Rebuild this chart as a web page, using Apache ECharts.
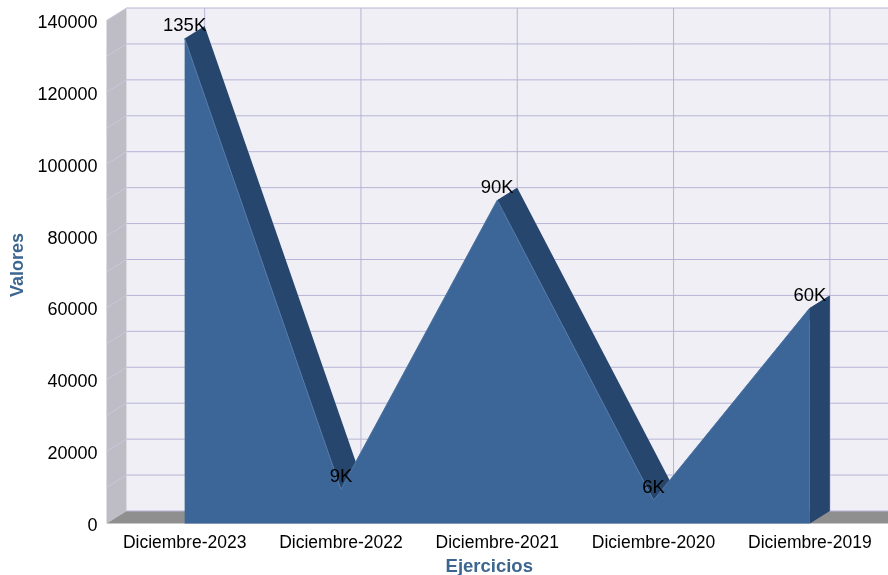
<!DOCTYPE html>
<html><head><meta charset="utf-8">
<style>html,body{margin:0;padding:0;background:#fff}#c{width:888px;height:575px}</style>
<script src="https://cdn.jsdelivr.net/npm/echarts@6/dist/echarts.min.js"></script>
</head><body><div id="c"></div>
<script>
const categories = ['Diciembre-2023','Diciembre-2022','Diciembre-2021','Diciembre-2020','Diciembre-2019'];
const values = [135000, 9500, 90000, 6500, 60000];
const labels = ['135K','9K','90K','6K','60K'];
const gridValues = [0,10000,20000,30000,40000,50000,60000,70000,80000,90000,100000,110000,120000,130000,140000];
const DX = 20, DY = -12.5;
const FRONT='#3c6698', SIDE='#27466d', WALL='#f0eff5', LEFT='#bebdc5', FLOOR='#8f8f8f', GRID='#b6b5d6', TITLE='#3c6690';
const chart = echarts.init(document.getElementById('c'),null,{renderer:'canvas'});
const poly=(pts,fill,z)=>({type:'polygon',shape:{points:pts},style:{fill:fill,stroke:null},z2:z||0});
const seg=(a,b,c,w)=>({type:'line',shape:{x1:a[0],y1:a[1],x2:b[0],y2:b[1]},style:{stroke:c,lineWidth:w||1,fill:null}});
const off=p=>[p[0]+DX,p[1]+DY];
function renderWalls(params,api){
  if(params.dataIndex!==0) return {type:'group',children:[]};
  const cs=params.coordSys, L=cs.x, R=cs.x+cs.width, T=cs.y, B=cs.y+cs.height;
  const kids=[
    poly([off([L,T]),off([R,T]),off([R,B]),off([L,B])],WALL),
    poly([[L,T],off([L,T]),off([L,B]),[L,B]],LEFT),
    poly([[L,B],off([L,B]),off([R,B]),[R,B]],FLOOR)
  ];
  gridValues.forEach(v=>{
    const p=api.coord([0,v]); const y=p[1];
    kids.push(seg(off([L,y]),off([R,y]),GRID,1));
    if(v>0) kids.push(seg([L,y],off([L,y]),'#c9c8dc',1));
  });
  for(let i=0;i<categories.length;i++){
    const x=api.coord([i,0])[0];
    kids.push(seg(off([x,T]),off([x,B]),GRID,1));
  }
  return {type:'group',children:kids};
}
function renderSide(params,api){
  const i=params.dataIndex;
  const a=api.coord([i,values[i]]);
  if(i===values.length-1){
    const b=api.coord([i,0]);
    return poly([a,off(a),off(b),b],SIDE);
  }
  const n=api.coord([i+1,values[i+1]]);
  return poly([a,off(a),off(n),n],SIDE);
}
chart.setOption({
  animation:false,
  textStyle:{fontFamily:'"Liberation Sans",Arial,sans-serif'},
  grid:{left:106.5,right:0,top:20.5,bottom:51.5,containLabel:false,outerBoundsMode:'none'},
  xAxis:{type:'category',data:categories,boundaryGap:true,name:'Ejercicios',nameLocation:'middle',nameGap:34,
    nameTextStyle:{fontSize:18.5,fontWeight:'bold',color:TITLE,padding:[0,16,0,0]},
    axisLine:{show:false},axisTick:{show:false},splitLine:{show:false},
    axisLabel:{fontSize:17.5,color:'#000',margin:11,interval:0}},
  yAxis:{type:'value',min:0,max:140000,interval:20000,name:'Valores',nameLocation:'middle',nameGap:77,nameRotate:90,
    nameTextStyle:{fontSize:18,fontWeight:'bold',color:TITLE,padding:[0,0,0,14]},
    axisLine:{show:false},axisTick:{show:false},splitLine:{show:false},
    axisLabel:{color:'#000',margin:9,formatter:v=>'{t|'+v+'}',
      rich:{t:{fontSize:18,color:'#000',padding:[5,0,0,0]}}}},
  series:[
    {type:'custom',name:'walls',renderItem:renderWalls,data:categories.map((c,i)=>[i,0]),z:1,silent:true,clip:false,encode:{x:0,y:1}},
    {type:'custom',name:'side',renderItem:renderSide,data:values.map((v,i)=>[i,v]),z:2,silent:true,clip:false,encode:{x:0,y:1}},
    {type:'line',name:'Valores',data:values,z:3,symbol:'circle',symbolSize:0,showSymbol:true,
      lineStyle:{color:'#4f77a6',width:1},areaStyle:{color:FRONT,opacity:1},
      label:{show:true,position:'top',distance:3,fontSize:18.5,color:'#000',
        formatter:p=>labels[p.dataIndex]}}
  ]
});
</script></body></html>
